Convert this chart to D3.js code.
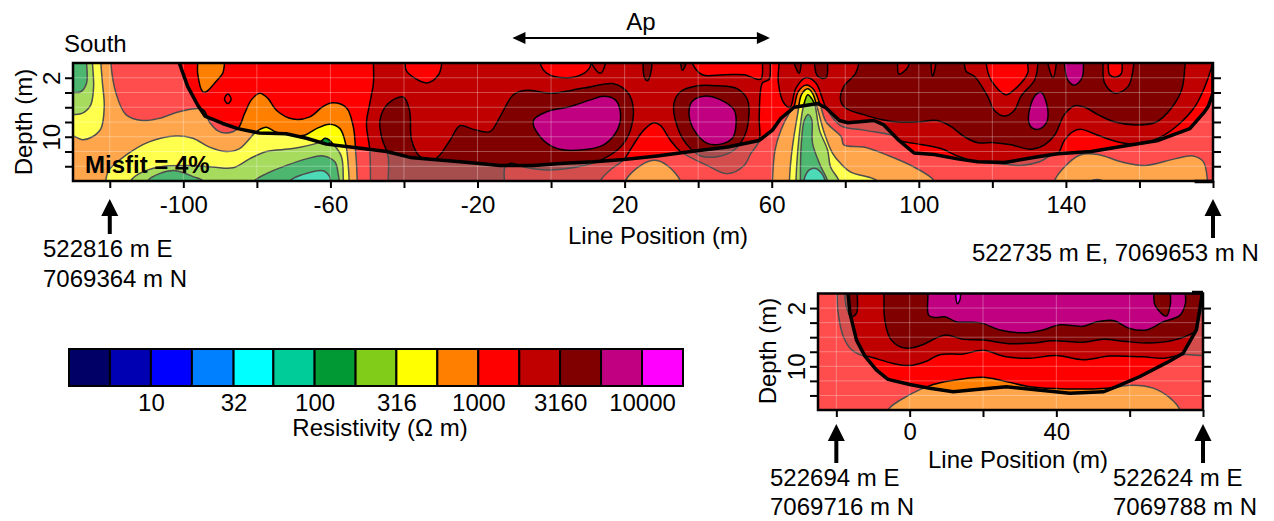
<!doctype html>
<html>
	<head>
		<title>Resistivity sections</title>
		<script src="https://d3js.org/d3.v7.min.js"></script>
		<style>
		body { margin: 0; background: #fff; }
		svg { display: block; }
		text { font-family: "Liberation Sans", Arial, sans-serif; fill: #000; }
		</style>
	</head>
	<body>
		<svg id="chart" width="1274" height="521"></svg>
		<script>
		// colour key: band lower limits in ohm m
		var bandEdges = [3.16, 5.62, 10, 17.8, 32, 56, 100, 178, 316, 562, 1000, 1780, 3160, 5620, 10000, 17800];
		var bandColors = ["#000066", "#0000b3", "#0000ff", "#0080ff", "#00ffff", "#00cc99", "#009933", "#80cc19", "#ffff00", "#ff8000", "#ff0000", "#c00000", "#800000", "#c00080", "#ff00ff"];
		var keyTicks = [10, 32, 100, 316, 1000, 3160, 10000];

		// long section, contours as [line position, depth]
		var mainTicksX = [-120, -100, -80, -60, -40, -20, 0, 20, 40, 60, 80, 100, 120, 140, 160, 180];
		var mainLabelsX = [-100, -60, -20, 20, 60, 100, 140];
		var depthTicks = [2, 4, 6, 8, 10, 12, 14];
		var depthLabels = [2, 10];

		var mainDoi = [[-101.1,0],[-98.8,3.2],[-96.1,5.7],[-94.1,7.2],[-89.3,8.2],[-85.2,8.9],[-79.3,9.5],[-72,9.6],[-66.5,10.2],[-61.1,11],[-52.9,11.5],[-44.7,12],[-38.3,12.8],[-32,13.1],[-24.7,13.4],[-20.2,13.6],[-13.9,13.9],[-4.8,13.9],[3.4,13.6],[11.6,13.4],[19.8,13.1],[28.9,12.6],[38,12],[48,11.4],[56.6,10.5],[60.2,9.1],[62.5,7.5],[66.1,6],[72.5,5.5],[74.8,6.1],[78.4,7.8],[80.7,8.1],[87.8,7.8],[90.5,8.4],[94.6,10.5],[98.7,12.2],[104.2,12.4],[110.5,13],[116,13.4],[123.3,13.5],[132.4,12.7],[137.8,12.3],[146.9,12],[154.2,11.4],[165.1,10.5],[173.7,8.9],[177.4,6.8],[178.7,5.9],[180,4.1],[180,0]];

		var leftOrange = [[-119.7,-1],[-119.7,0],[-118.3,4.1],[-115.6,7],[-111.1,7.8],[-106.5,7.5],[-101.1,6.6],[-94.7,6.3],[-92.9,8],[-90.6,9.2],[-88.3,9.5],[-85.2,8.9],[-83.3,6.8],[-81.5,5],[-79.2,4.1],[-77,4.8],[-74.7,6.4],[-70.2,7.6],[-65.6,7.3],[-62,5.9],[-59.3,5.4],[-55.6,6.1],[-53.8,8.6],[-53.2,11.4],[-52.7,16],[-52.7,17.5],[-140,17.5],[-140,-1]];
		var edgeYellow = [[-122.4,-1],[-122.4,0],[-122,2.7],[-121.5,5.9],[-122.4,8.9],[-124.7,10],[-127.4,10.4],[-130,9.9],[-140,9.5],[-140,-1]];
		var edgeLime = [[-124.7,-1],[-124.7,0],[-124.4,3.2],[-125.2,5.7],[-127.4,6.8],[-130,7],[-140,7],[-140,-1]];
		var edgeGreen = [[-126.3,-1],[-126.3,0],[-126.3,2.7],[-127.9,3.9],[-130,4],[-140,4],[-140,-1]];
		var lowYellow = [[-121.1,16],[-120.2,14.5],[-115.6,12.5],[-109.3,10.7],[-102,9.9],[-97.4,10.2],[-92.9,11.4],[-88.3,12],[-84.7,11.6],[-80.6,9.5],[-79.2,9],[-77.4,8.7],[-74.7,9.4],[-70.2,9.8],[-67,9.8],[-63.8,8.9],[-60.2,8.3],[-57.4,8.9],[-55.8,11.1],[-55.2,13.6],[-54.9,16],[-54.9,17.5],[-121,17.5]];
		var lowLime = [[-114.3,16],[-112,15],[-106.5,14.1],[-99.3,13.9],[-92,14.1],[-86.5,14.2],[-82,13],[-77.4,12],[-70.2,11.6],[-63.8,10.9],[-61,10.3],[-59.1,11.1],[-57,12.7],[-56.5,16],[-56.5,17.5],[-114.3,17.5]];
		var lowGreenA = [[-109.7,16],[-106.5,15],[-102,14.6],[-97.4,15.4],[-94.7,16],[-94.7,17.5],[-109.7,17.5]];
		var lowGreenB = [[-80.6,16],[-77.4,15],[-72,13.9],[-66.5,13],[-62,12.6],[-58.8,13.4],[-57.9,15],[-57.6,16],[-57.6,17.5],[-80.6,17.5]];
		var greenDot = [[-62.5,10.8],[-61.5,10.2],[-59.8,10.7],[-61.5,11]];
		var lowTeal = [[-71,16],[-67.4,15.1],[-62,14.6],[-60.2,15.4],[-60,16],[-60,17.5],[-71,17.5]];
		var topOrange = [[-96.1,-1],[-96.1,0],[-96.1,1.4],[-94.7,3.9],[-93.8,3.9],[-91.1,2.5],[-89.3,1.4],[-88.8,0],[-88.8,-1]];
		var redSpot = [[-88.8,4.9],[-87.9,4.2],[-87,4.9],[-87.9,5.5]];

		var darkWest = [[-48.3,-1],[-48.3,0],[-48.3,2.7],[-49.3,5.5],[-50.2,8.2],[-49.3,11.8],[-49.1,16],[-49.1,17.5],[13.4,17.5],[13.4,16],[16.1,14.5],[19.8,13.1],[22,11.4],[25.2,9.1],[28,8.1],[29.8,8.5],[32.5,10.5],[35.2,12],[42.5,13.9],[48,15],[52.5,13.9],[54.3,12.3],[56.6,10.5],[56.6,7.3],[57.5,2.7],[59.3,2.2],[59.6,0],[59.6,-1]];
		var darkEast = [[62,-1],[62,0],[61.8,2.7],[63.4,5.5],[65,6],[66.6,3.4],[69.3,2],[72,2.7],[73.9,5],[74.8,6.1],[78.7,8.5],[85,9.1],[93.3,9.9],[94.6,10.5],[98.7,10.9],[106,11.6],[110.5,12.6],[116,13.4],[123.3,13.7],[127.8,13.9],[132.8,13.4],[136,12.5],[137.8,12.3],[139.6,10.5],[141.9,9.3],[144.2,9],[148.7,9.8],[154.2,10.7],[159.6,11],[165.1,10.2],[170.5,8.4],[175.1,5.9],[177.8,3.2],[179.4,0.9],[179.8,0],[179.8,-1]];
		var redTopA = [[-39.7,-1],[-39.7,0],[-39.3,1.1],[-33.8,2.7],[-30.6,1.6],[-29.7,0],[-29.7,-1]];
		var redTopB = [[-3,-1],[-3,0],[-1.1,1.4],[4.3,2],[8.9,1.4],[10.7,0.4],[10.7,-1]];
		var redTopC = [[38.4,-1],[38.4,0],[41.1,1.6],[47,1.6],[52.5,1.6],[57,2.2],[57.5,0],[57.5,-1]];
		var notchA = [[11,-1],[11,0],[13.4,1.4],[14.8,0],[14.8,-1]];

		var deepWest = [[-44.3,16],[-44.3,12.7],[-46.1,10],[-46.5,7.7],[-44.3,5.5],[-40.2,4.6],[-38.5,6.4],[-37.9,10.5],[-35.6,12.7],[-31.5,13],[-27.5,10.5],[-24.8,8.5],[-21.1,9],[-16.6,9.3],[-13.9,7.3],[-10.2,4.3],[-6.6,3.7],[-0.2,4.1],[8.9,3.4],[17,2.8],[20.7,3.9],[22.3,5.9],[21.6,9.1],[18.9,11.4],[13.4,13.2],[8.9,13.9],[-0.2,14.5],[-7.5,14.1],[-10.7,13.6],[-12.5,14.1],[-12.7,16],[-12.7,17.5],[-44.3,17.5]];
		var deepRing = [[33.4,5.5],[35.2,3.9],[39.8,3.1],[45.2,3.1],[50.7,3.5],[53.4,5],[53.7,7.7],[52.5,10],[49.8,11.8],[45.2,12.7],[40.7,12.6],[37,11.1],[34.3,8.6]];
		var deepSpotA = [[25,-1],[25,0],[25.4,2],[26.3,2.4],[27.3,0.9],[27.4,0],[27.4,-1]];
		var deepSpotB = [[35.2,-1],[35.2,0],[35.7,1],[36.6,0.2],[36.6,-1]];
		var deepSpotC = [[66.1,-1],[66.1,0],[67.5,1.4],[68,0],[68,-1]];
		var deepSpotD = [[71.6,-1],[71.6,0],[72.5,1.8],[74.8,2],[75.2,0],[75.2,-1]];
		var purpleA = [[-4.8,7.8],[-1.1,6.6],[5.2,5.9],[10.7,5],[14.3,4.5],[17.5,5],[18.9,7],[18,9.1],[14.3,11.1],[8,11.8],[1.6,11.6],[-3,10]];
		var purpleB = [[37.5,6.8],[38.4,5.2],[41.6,4.5],[46.1,5],[49.8,6.4],[50.3,8.4],[49.3,10.2],[46.1,11],[42.5,10.9],[38.9,9.1]];

		var bumpOrange = [[60.2,16],[60.9,11.8],[62.5,9.1],[64.8,6.8],[66,6],[67.2,3.9],[69.3,3],[71.4,3.6],[73.2,5.7],[74.8,8],[78.9,10],[79.6,11.1],[85,11.4],[91.5,12.5],[98.7,14.1],[104.2,16],[104.2,17.5],[60.2,17.5]];
		var bumpYellow = [[64.8,16],[65.4,12.3],[67.1,6.8],[68.1,4.3],[69.8,3.5],[71.1,4.1],[72.3,5.9],[74.3,9.5],[76.6,12.3],[78.7,13.6],[81.5,14.8],[88.7,16],[88.7,17.5],[64.8,17.5]];
		var bumpLime = [[66.6,16],[67.1,11.8],[68.1,7.3],[68.7,5.7],[69.8,4.3],[71.1,5],[71.8,5.8],[73,9.1],[75.2,11.8],[76,14.1],[78.3,16],[78.3,17.5],[66.6,17.5]];
		var bumpGreen = [[67.8,16],[68,11.4],[68.9,7.7],[70,7],[70.9,7.7],[71.1,10.9],[73.4,14.1],[75.2,16],[75.2,17.5],[67.8,17.5]];
		var bumpTeal = [[68.7,16],[70.2,14.5],[72,14.3],[73.9,15.2],[74.5,16],[74.5,17.5],[68.7,17.5]];
		var lowOrangeA = [[20.2,16],[24.3,13.9],[28.4,13.2],[31.6,13.9],[35.2,16],[35.2,17.5],[20.2,17.5]];
		var lowOrangeB = [[136.9,16],[139.6,14.1],[143.7,12.5],[148.7,12.4],[155,13.4],[161.5,13.9],[169.6,13],[174.6,12.6],[177.4,13.4],[178.5,16],[178.5,17.5],[136.9,17.5]];
		var lowYellowB = [[146.5,16.2],[148.7,15.8],[150.5,16.2],[150.5,17.5],[146.5,17.5]];

		var deepEast = [[83.7,-1],[83.7,0],[82.8,1.4],[79.6,3.2],[78.7,5],[80.1,6.1],[85,7],[90.1,7.7],[94.2,8],[99.6,8],[105,7.8],[108.7,8.6],[112.4,10],[116,10.8],[120.5,10.8],[125.1,11.1],[130.5,11.7],[134.2,11.1],[136.9,9.8],[139.6,7],[142.4,5.8],[145.1,6],[148.7,7],[153.3,8],[159.6,8.4],[164.6,8],[168.7,6.1],[171.5,3.6],[172.4,0],[172.4,-1]];
		var notchB = [[112.4,-1],[112.4,0],[112.8,1.1],[115.1,1.8],[118.7,4.5],[120.5,6.4],[123.3,7.2],[126,6.4],[127.8,4.5],[131.5,2.3],[132.4,0],[132.4,-1]];
		var notchBRed = [[118.3,-1],[118.3,0],[119.6,2.3],[123.7,4.3],[126,3.6],[129.6,1.4],[129.6,0],[129.6,-1]];
		var notchC = [[150.1,-1],[150.1,0],[150.5,2.7],[153.3,4.1],[156.9,3.2],[158.5,0],[158.5,-1]];
		var notchCRed = [[151.5,-1],[151.5,0],[151.9,1.6],[153.7,1.9],[155.1,1.4],[155.3,0],[155.3,-1]];
		var nickA = [[94.2,-1],[94.2,0],[94.6,1.5],[97.1,0.5],[97.1,-1]];
		var nickB = [[103.3,-1],[103.3,0],[103.7,1.8],[104.5,0.5],[104.5,-1]];
		var nickC = [[135.1,-1],[135.1,0],[136.5,2],[137.4,0],[137.4,-1]];
		var purpleTop = [[139.6,-1],[139.6,0],[140.5,2.3],[142.4,3],[144.4,2],[144.8,0],[144.8,-1]];
		var purpleC = [[129.8,7.3],[131.5,4.5],[133.3,4],[135.1,6.4],[134.6,8.2],[132.4,9],[130.4,8.6]];

		// band value and outline, painted in this order
		var mainBands = [
			[562, leftOrange], [316, edgeYellow], [178, edgeLime], [100, edgeGreen],
			[316, lowYellow], [178, lowLime], [100, lowGreenA], [100, lowGreenB], [100, greenDot], [56, lowTeal],
			[562, topOrange], [1000, redSpot],
			[1780, darkWest], [1780, darkEast],
			[1000, redTopA], [1000, redTopB], [1000, redTopC], [1780, notchA],
			[3160, deepWest], [3160, deepRing], [3160, deepSpotA], [3160, deepSpotB], [3160, deepSpotC], [3160, deepSpotD],
			[5620, purpleA], [5620, purpleB],
			[562, bumpOrange], [316, bumpYellow], [178, bumpLime], [100, bumpGreen], [56, bumpTeal],
			[562, lowOrangeA], [562, lowOrangeB], [316, lowYellowB],
			[3160, deepEast], [1780, notchB], [1000, notchBRed], [1780, notchC], [1000, notchCRed],
			[1780, nickA], [1780, nickB], [1780, nickC], [5620, purpleTop], [5620, purpleC]
		];

		// short section
		var insetTicksX = [-20, 0, 20, 40, 60, 80];
		var insetLabelsX = [0, 40];
		var insetDoi = [[-16.8,0],[-16.3,2.7],[-14.5,6.4],[-12.2,8.6],[-9.1,10.5],[-5.9,11.8],[0,12.5],[5.5,13],[11.9,13.5],[18.2,13.2],[26.4,12.8],[33.7,13.2],[43.7,13.7],[52.8,13.5],[56.4,12.8],[62.8,11.4],[70.1,9.5],[74.6,8.2],[78.2,5],[79.1,2.3],[79.8,0]];
		var insetOrange = [[-5.9,16],[0,13.9],[6.4,12.5],[10.9,12],[20,11.5],[25.5,12],[32.8,12.8],[42.8,13.1],[53.7,13],[60.9,12.6],[66.4,13],[70.9,14.3],[73.7,16],[73.7,17.5],[-5.9,17.5]];
		var insetDark = [[-19.8,-1],[-19.8,0],[-19.5,2.7],[-18.1,5.9],[-15.9,7.7],[-13.1,8.5],[-10.9,8.7],[-4.5,9.6],[0,9.9],[4.6,9.3],[8.2,8.4],[14.6,8.3],[20,7.8],[26.4,8.7],[32.8,8.9],[40,8.5],[47.3,9.1],[54.6,8.6],[63.7,8.7],[69.1,8.9],[74.6,8.4],[79.3,8.5],[90,8.5],[90,-1]];
		var insetDeepSpot = [[-17.7,-1],[-17.7,0],[-17.2,2],[-15.9,3.2],[-14.5,2.7],[-14.3,0],[-14.3,-1]];
		var insetDeep = [[-7,-1],[-7,0],[-6.8,3.6],[-5.4,6.1],[-2.7,7.3],[0,7.5],[3.7,7],[7.3,6.1],[10,5.7],[14.6,6.3],[20,6.4],[27.3,6.9],[33.7,6.8],[39.1,6.5],[47.3,6.7],[52.8,6.3],[59.1,6.6],[65.5,6.8],[72.8,6.3],[78.2,5],[79.3,2.7],[85,0],[85,-1]];
		var insetPurple = [[5,-1],[5,0],[5.2,3],[6.9,3.3],[9.6,3.2],[12.8,3.9],[19.1,4],[24.6,5],[31,5.4],[36.4,5],[41,4.3],[47.3,4.5],[50.9,3.9],[55.5,3.7],[60,4.8],[64.6,5],[69.1,3.9],[73.7,3],[75.2,1.4],[75.2,0],[75.2,-1]];
		var insetDeepTop = [[66.6,-1],[66.6,0],[66.9,1.6],[70,3.1],[71.1,1.4],[71.1,0],[71.1,-1]];
		var insetMagenta = [[12.5,-1],[12.5,0],[13,1.4],[13.7,0.9],[13.9,0],[13.9,-1]];
		var insetBands = [
			[562, insetOrange], [1780, insetDark], [3160, insetDeepSpot], [3160, insetDeep],
			[5620, insetPurple], [3160, insetDeepTop], [10000, insetMagenta]
		];

		var svg = d3.select("#chart");
		var fontSize = 24;
		var bandColor = d3.scaleThreshold().domain(bandEdges.slice(1, -1)).range(bandColors);
		var contourPath = d3.line().curve(d3.curveCatmullRomClosed.alpha(0.5));

		function styleAxisText(a) {
			a.selectAll("text").attr("font-size", fontSize).style("font-family", "\"Liberation Sans\", Arial, sans-serif");
		}

		function drawSection(id, box, xDomain, bands, doi, ticksX, labelsX) {
			var x = d3.scaleLinear().domain(xDomain).range([box.left, box.right]);
			var y = d3.scaleLinear().domain([0, 16]).range([box.top, box.bottom]);
			var toPx = function(p) { return [x(p[0]), y(p[1])]; };

			svg.append("clipPath").attr("id", id).append("rect")
				.attr("x", box.left).attr("y", box.top)
				.attr("width", box.right - box.left).attr("height", box.bottom - box.top);

			var plot = svg.append("g").attr("clip-path", "url(#" + id + ")");

			// everything not outlined sits in the 1000-1780 band
			plot.append("rect")
				.attr("x", box.left).attr("y", box.top)
				.attr("width", box.right - box.left).attr("height", box.bottom - box.top)
				.attr("fill", bandColor(1000));

			plot.selectAll("path.band").data(bands).join("path")
				.attr("class", "band")
				.attr("d", function(d) { return contourPath(d[1].map(toPx)); })
				.attr("fill", function(d) { return bandColor(d[0]); })
				.attr("stroke", "#000").attr("stroke-width", 1.5);

			// poorly resolved ground under the depth of investigation line
			var last = doi[doi.length - 1];
			var veil = doi.concat([[last[0] + 5, last[1]], [last[0] + 5, 17], [xDomain[0] - 5, 17], [xDomain[0] - 5, 0]]);
			plot.append("path")
				.attr("d", d3.line()(veil.map(toPx)) + "Z")
				.attr("fill", "#fff").attr("fill-opacity", 0.3);

			plot.selectAll("line.gx").data(ticksX).join("line")
				.attr("class", "gx")
				.attr("x1", x).attr("x2", x).attr("y1", box.top).attr("y2", box.bottom)
				.attr("stroke", "#fff").attr("stroke-opacity", 0.3);
			plot.selectAll("line.gy").data(depthTicks).join("line")
				.attr("class", "gy")
				.attr("y1", y).attr("y2", y).attr("x1", box.left).attr("x2", box.right)
				.attr("stroke", "#fff").attr("stroke-opacity", 0.3);

			plot.append("path")
				.attr("d", d3.line()(doi.map(toPx)))
				.attr("fill", "none").attr("stroke", "#000").attr("stroke-width", 3.5)
				.attr("stroke-linejoin", "round");

			svg.append("rect")
				.attr("x", box.left).attr("y", box.top)
				.attr("width", box.right - box.left).attr("height", box.bottom - box.top)
				.attr("fill", "none").attr("stroke", "#000").attr("stroke-width", 2.5);

			var bottomAxis = svg.append("g")
				.attr("transform", "translate(0," + box.bottom + ")")
				.call(d3.axisBottom(x).tickValues(ticksX).tickSize(7).tickPadding(box.pad)
					.tickFormat(function(d) { return labelsX.indexOf(d) >= 0 ? d : ""; }));
			var leftAxis = svg.append("g")
				.attr("transform", "translate(" + box.left + ",0)")
				.call(d3.axisLeft(y).tickValues(depthTicks).tickSize(8)
					.tickFormat(function(d) { return depthLabels.indexOf(d) >= 0 ? d : ""; }));
			var rightAxis = svg.append("g")
				.attr("transform", "translate(" + box.right + ",0)")
				.call(d3.axisRight(y).tickValues(depthTicks).tickSize(8).tickFormat(""));

			[bottomAxis, leftAxis, rightAxis].forEach(function(a) {
				a.select(".domain").remove();
				a.selectAll("line").attr("stroke-width", 2);
				styleAxisText(a);
			});
			leftAxis.selectAll("text")
				.attr("x", 0).attr("dy", 0).attr("text-anchor", "middle")
				.attr("transform", "translate(-13,0) rotate(-90)");

			return x;
		}

		function label(str, px, py, opts) {
			opts = opts || {};
			var t = svg.append("text")
				.attr("x", px).attr("y", py)
				.attr("font-size", opts.size || fontSize)
				.attr("text-anchor", opts.anchor || "start")
				.text(str);
			if (opts.bold) t.attr("font-weight", "bold");
			if (opts.rotate) t.attr("transform", "rotate(-90," + px + "," + py + ")");
			return t;
		}

		function upArrow(px, tipY, endY) {
			svg.append("line").attr("x1", px).attr("x2", px).attr("y1", tipY + 10).attr("y2", endY)
				.attr("stroke", "#000").attr("stroke-width", 4);
			svg.append("path").attr("d", d3.line()([[px - 8.5, tipY + 17], [px, tipY], [px + 8.5, tipY + 17]]) + "Z");
		}

		var mainX = drawSection("clip-main", {left: 73, right: 1213, top: 63, bottom: 181, pad: 8},
			[-130, 180], mainBands, mainDoi, mainTicksX, mainLabelsX);
		var insetX = drawSection("clip-inset", {left: 818, right: 1203, top: 293.5, bottom: 410, pad: 6},
			[-25, 80], insetBands, insetDoi, insetTicksX, insetLabelsX);

		// short heavy stubs at the far end of each section
		svg.append("line").attr("x1", mainX(175)).attr("x2", mainX(180)).attr("y1", 181.5).attr("y2", 181.5)
			.attr("stroke", "#000").attr("stroke-width", 3.5);
		svg.append("line").attr("x1", insetX(77)).attr("x2", insetX(80)).attr("y1", 292.5).attr("y2", 292.5)
			.attr("stroke", "#000").attr("stroke-width", 3.5);

		// main annotations
		label("South", 64, 52);
		label("Ap", 641, 30, {anchor: "middle"});
		label("Misfit = 4%", 85, 173, {bold: true});
		label("Depth (m)", 32, 122, {rotate: true, anchor: "middle"});
		label("Line Position (m)", 658, 244, {anchor: "middle"});

		var apY = 38;
		svg.append("line").attr("x1", mainX(-10)).attr("x2", mainX(59)).attr("y1", apY).attr("y2", apY)
			.attr("stroke", "#000").attr("stroke-width", 2);
		[[mainX(-10.5), 1], [mainX(59.5), -1]].forEach(function(h) {
			svg.append("path").attr("d", d3.line()([[h[0], apY], [h[0] + h[1] * 13, apY - 6], [h[0] + h[1] * 13, apY + 6]]) + "Z");
		});

		upArrow(mainX(-120), 199, 234);
		upArrow(mainX(180), 199, 238);
		label("522816 m E", 43, 257);
		label("7069364 m N", 43, 287);
		label("522735 m E, 7069653 m N", 972, 261);

		// inset annotations
		label("Depth (m)", 776, 351, {rotate: true, anchor: "middle"});
		label("Line Position (m)", 1018, 468, {anchor: "middle"});
		upArrow(insetX(-20), 424, 463);
		upArrow(insetX(80), 424, 463);
		label("522694 m E", 770, 486);
		label("7069716 m N", 770, 515);
		label("522624 m E", 1113, 486);
		label("7069788 m N", 1113, 515);

		// colour key
		var keyX = d3.scaleLog().domain([bandEdges[0], bandEdges[bandEdges.length - 1]]).range([69, 683]);
		svg.selectAll("rect.key").data(bandColors).join("rect")
			.attr("class", "key")
			.attr("x", function(d, i) { return keyX(bandEdges[i]); })
			.attr("width", function(d, i) { return keyX(bandEdges[i + 1]) - keyX(bandEdges[i]); })
			.attr("y", 349).attr("height", 37)
			.attr("fill", function(d) { return d; })
			.attr("stroke", "#000").attr("stroke-width", 2);

		var keyAxis = svg.append("g")
			.attr("transform", "translate(0,386)")
			.call(d3.axisBottom(keyX).tickValues(keyTicks).tickSize(0).tickPadding(8).tickFormat(d3.format("d")));
		keyAxis.select(".domain").remove();
		styleAxisText(keyAxis);

		label("Resistivity (\u03a9 m)", 380, 436, {anchor: "middle"});
		</script>
	</body>
</html>
